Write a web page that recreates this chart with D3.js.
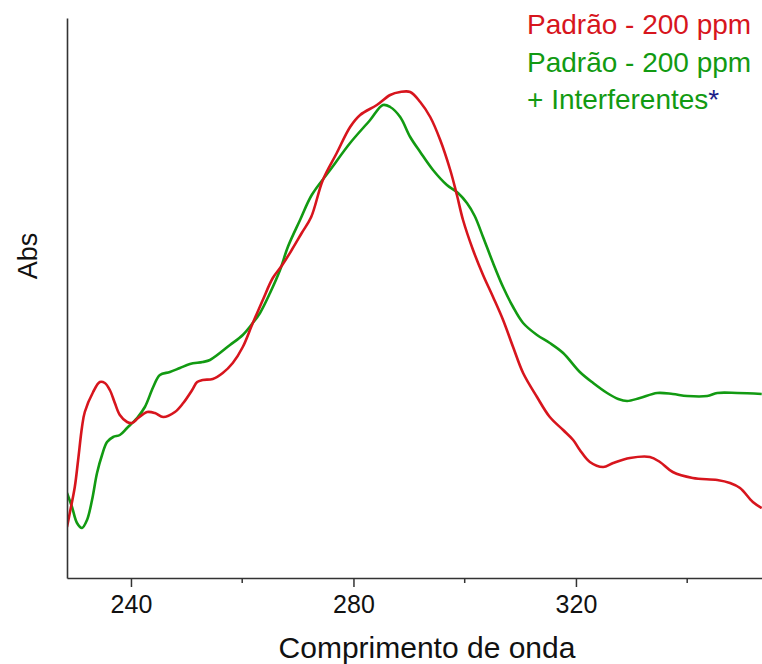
<!DOCTYPE html>
<html>
<head>
<meta charset="utf-8">
<script src="https://cdn.jsdelivr.net/npm/d3@7"></script>
<style>
  html, body { margin: 0; padding: 0; background: #fff; }
  svg { display: block; }
  text { font-family: "Liberation Sans", Arial, sans-serif; }
</style>
</head>
<body>
<svg id="chart" width="762" height="664"></svg>
<script>
// UV spectra: standard solution alone vs. standard with interferents
// [wavelength (nm), absorbance]
const padrao = [
  [228.5, 0.051], [229.0, 0.065], [229.9, 0.091], [230.5, 0.118], [231.2, 0.151],
  [231.7, 0.166], [233.2, 0.186], [234.4, 0.196], [235.3, 0.195], [236.2, 0.188],
  [237.1, 0.175], [238.0, 0.163], [239.3, 0.156], [240.2, 0.155], [241.3, 0.160],
  [242.9, 0.166], [244.3, 0.165], [245.8, 0.161], [247.9, 0.166], [249.4, 0.175],
  [251.0, 0.188], [251.9, 0.196], [252.9, 0.198], [254.7, 0.199], [256.5, 0.205],
  [258.3, 0.215], [260.1, 0.231], [261.9, 0.255], [263.7, 0.278], [265.5, 0.300],
  [267.2, 0.313], [268.9, 0.328], [270.7, 0.345], [272.4, 0.361], [274.5, 0.398],
  [277.0, 0.425], [279.4, 0.451], [281.2, 0.463], [284.2, 0.473], [286.6, 0.483],
  [288.4, 0.486], [290.2, 0.486], [292.0, 0.476], [293.8, 0.461], [295.6, 0.438],
  [297.4, 0.408], [298.6, 0.383], [299.7, 0.358], [301.5, 0.328], [303.3, 0.303],
  [305.1, 0.281], [306.9, 0.258], [308.7, 0.231], [310.5, 0.205], [313.0, 0.181],
  [315.3, 0.161], [317.7, 0.148], [319.5, 0.138], [320.7, 0.128], [322.5, 0.116],
  [324.9, 0.111], [326.7, 0.115], [329.7, 0.120], [333.3, 0.121], [335.1, 0.116],
  [337.4, 0.106], [341.0, 0.100], [345.4, 0.098], [347.7, 0.095], [349.5, 0.090],
  [351.8, 0.076], [353.4, 0.070]
];

const padraoInterf = [
  [228.5, 0.085], [229.4, 0.071], [230.3, 0.055], [231.2, 0.050], [232.1, 0.058],
  [233.0, 0.078], [233.9, 0.105], [234.8, 0.123], [235.7, 0.136], [236.8, 0.141],
  [238.0, 0.143], [239.3, 0.150], [241.1, 0.160], [242.5, 0.171], [244.0, 0.191],
  [245.2, 0.203], [247.0, 0.206], [248.8, 0.210], [250.6, 0.214], [252.9, 0.216],
  [254.2, 0.218], [257.8, 0.233], [260.1, 0.243], [261.9, 0.255], [263.2, 0.265],
  [265.0, 0.285], [266.8, 0.308], [268.2, 0.331], [270.4, 0.358], [272.5, 0.383],
  [275.8, 0.408], [279.4, 0.435], [283.0, 0.458], [285.3, 0.473], [286.6, 0.471],
  [288.4, 0.461], [290.2, 0.441], [292.0, 0.426], [294.3, 0.408], [296.8, 0.393],
  [298.8, 0.385], [300.4, 0.375], [301.8, 0.362], [303.3, 0.341], [305.1, 0.315],
  [306.9, 0.291], [308.7, 0.271], [310.5, 0.255], [313.0, 0.243], [315.3, 0.235],
  [317.7, 0.225], [320.7, 0.206], [323.1, 0.195], [325.6, 0.185], [327.6, 0.179],
  [329.2, 0.177], [331.5, 0.180], [334.6, 0.185], [337.4, 0.184], [340.0, 0.182],
  [343.6, 0.182], [345.4, 0.185], [349.0, 0.185], [353.4, 0.184]
];

const majorTicks = [240, 280, 320];
const minorTicks = [260, 300, 340];
const xDomain = [228.5, 353.45];
const yDomain = [0, 0.56];

const legendLines = [
  { text: "Padrão - 200 ppm", color: "#d7151d" },
  { text: "Padrão - 200 ppm", color: "#129a12" },
  { text: "+ Interferentes", color: "#129a12", suffix: "*", suffixColor: "#1b1f8a" }
];

const svg = d3.select("#chart");
const plot = { left: 67, right: 762, top: 18, bottom: 578 };

const x = d3.scaleLinear().domain(xDomain).range([plot.left, plot.right]);
const y = d3.scaleLinear().domain(yDomain).range([plot.bottom, plot.top]);

svg.append("defs").append("clipPath").attr("id", "plot-clip")
  .append("rect")
  .attr("x", plot.left).attr("y", plot.top - 10)
  .attr("width", plot.right - plot.left).attr("height", plot.bottom - plot.top + 10);

const line = d3.line()
  .x(d => x(d[0]))
  .y(d => y(d[1]))
  .curve(d3.curveCatmullRom.alpha(0.5));

const curves = svg.append("g").attr("clip-path", "url(#plot-clip)");
curves.append("path").datum(padraoInterf)
  .attr("d", line).attr("fill", "none")
  .attr("stroke", "#129a12").attr("stroke-width", 2.6)
  .attr("stroke-linejoin", "round");
curves.append("path").datum(padrao)
  .attr("d", line).attr("fill", "none")
  .attr("stroke", "#d7151d").attr("stroke-width", 2.6)
  .attr("stroke-linejoin", "round");

// Bottom axis: labelled major ticks plus short unlabelled minor ticks
const xAxis = svg.append("g")
  .attr("transform", `translate(0,${plot.bottom})`)
  .call(d3.axisBottom(x).tickValues(majorTicks).tickSize(9).tickSizeOuter(0).tickPadding(8));
xAxis.select(".domain").attr("stroke", "#333").attr("stroke-width", 1.6);
xAxis.selectAll(".tick line").attr("stroke", "#333").attr("stroke-width", 1.5);
xAxis.selectAll(".tick text")
  .attr("fill", "#111")
  .style("font-size", "25px");

svg.append("g")
  .attr("transform", `translate(0,${plot.bottom})`)
  .selectAll("line").data(minorTicks).join("line")
  .attr("x1", d => x(d)).attr("x2", d => x(d))
  .attr("y1", 0).attr("y2", 5)
  .attr("stroke", "#333").attr("stroke-width", 1.5);

// Left axis line without ticks
const yAxis = svg.append("g")
  .attr("transform", `translate(${plot.left},0)`)
  .call(d3.axisLeft(y).tickValues([]).tickSizeOuter(0));
yAxis.select(".domain").attr("stroke", "#333").attr("stroke-width", 1.6);

svg.append("text")
  .attr("x", 427)
  .attr("y", 658)
  .attr("text-anchor", "middle")
  .attr("fill", "#111")
  .style("font-size", "30px")
  .text("Comprimento de onda");

svg.append("text")
  .attr("transform", `translate(37,256) rotate(-90)`)
  .attr("text-anchor", "middle")
  .attr("fill", "#111")
  .style("font-size", "27px")
  .text("Abs");

const legend = svg.append("g").attr("transform", "translate(527,0)");
legendLines.forEach((l, i) => {
  const t = legend.append("text")
    .attr("x", 0).attr("y", 34 + i * 37.5)
    .attr("fill", l.color)
    .style("font-size", "28px")
    .text(l.text);
  if (l.suffix) {
    t.append("tspan").attr("fill", l.suffixColor).text(l.suffix);
  }
});
</script>
</body>
</html>
